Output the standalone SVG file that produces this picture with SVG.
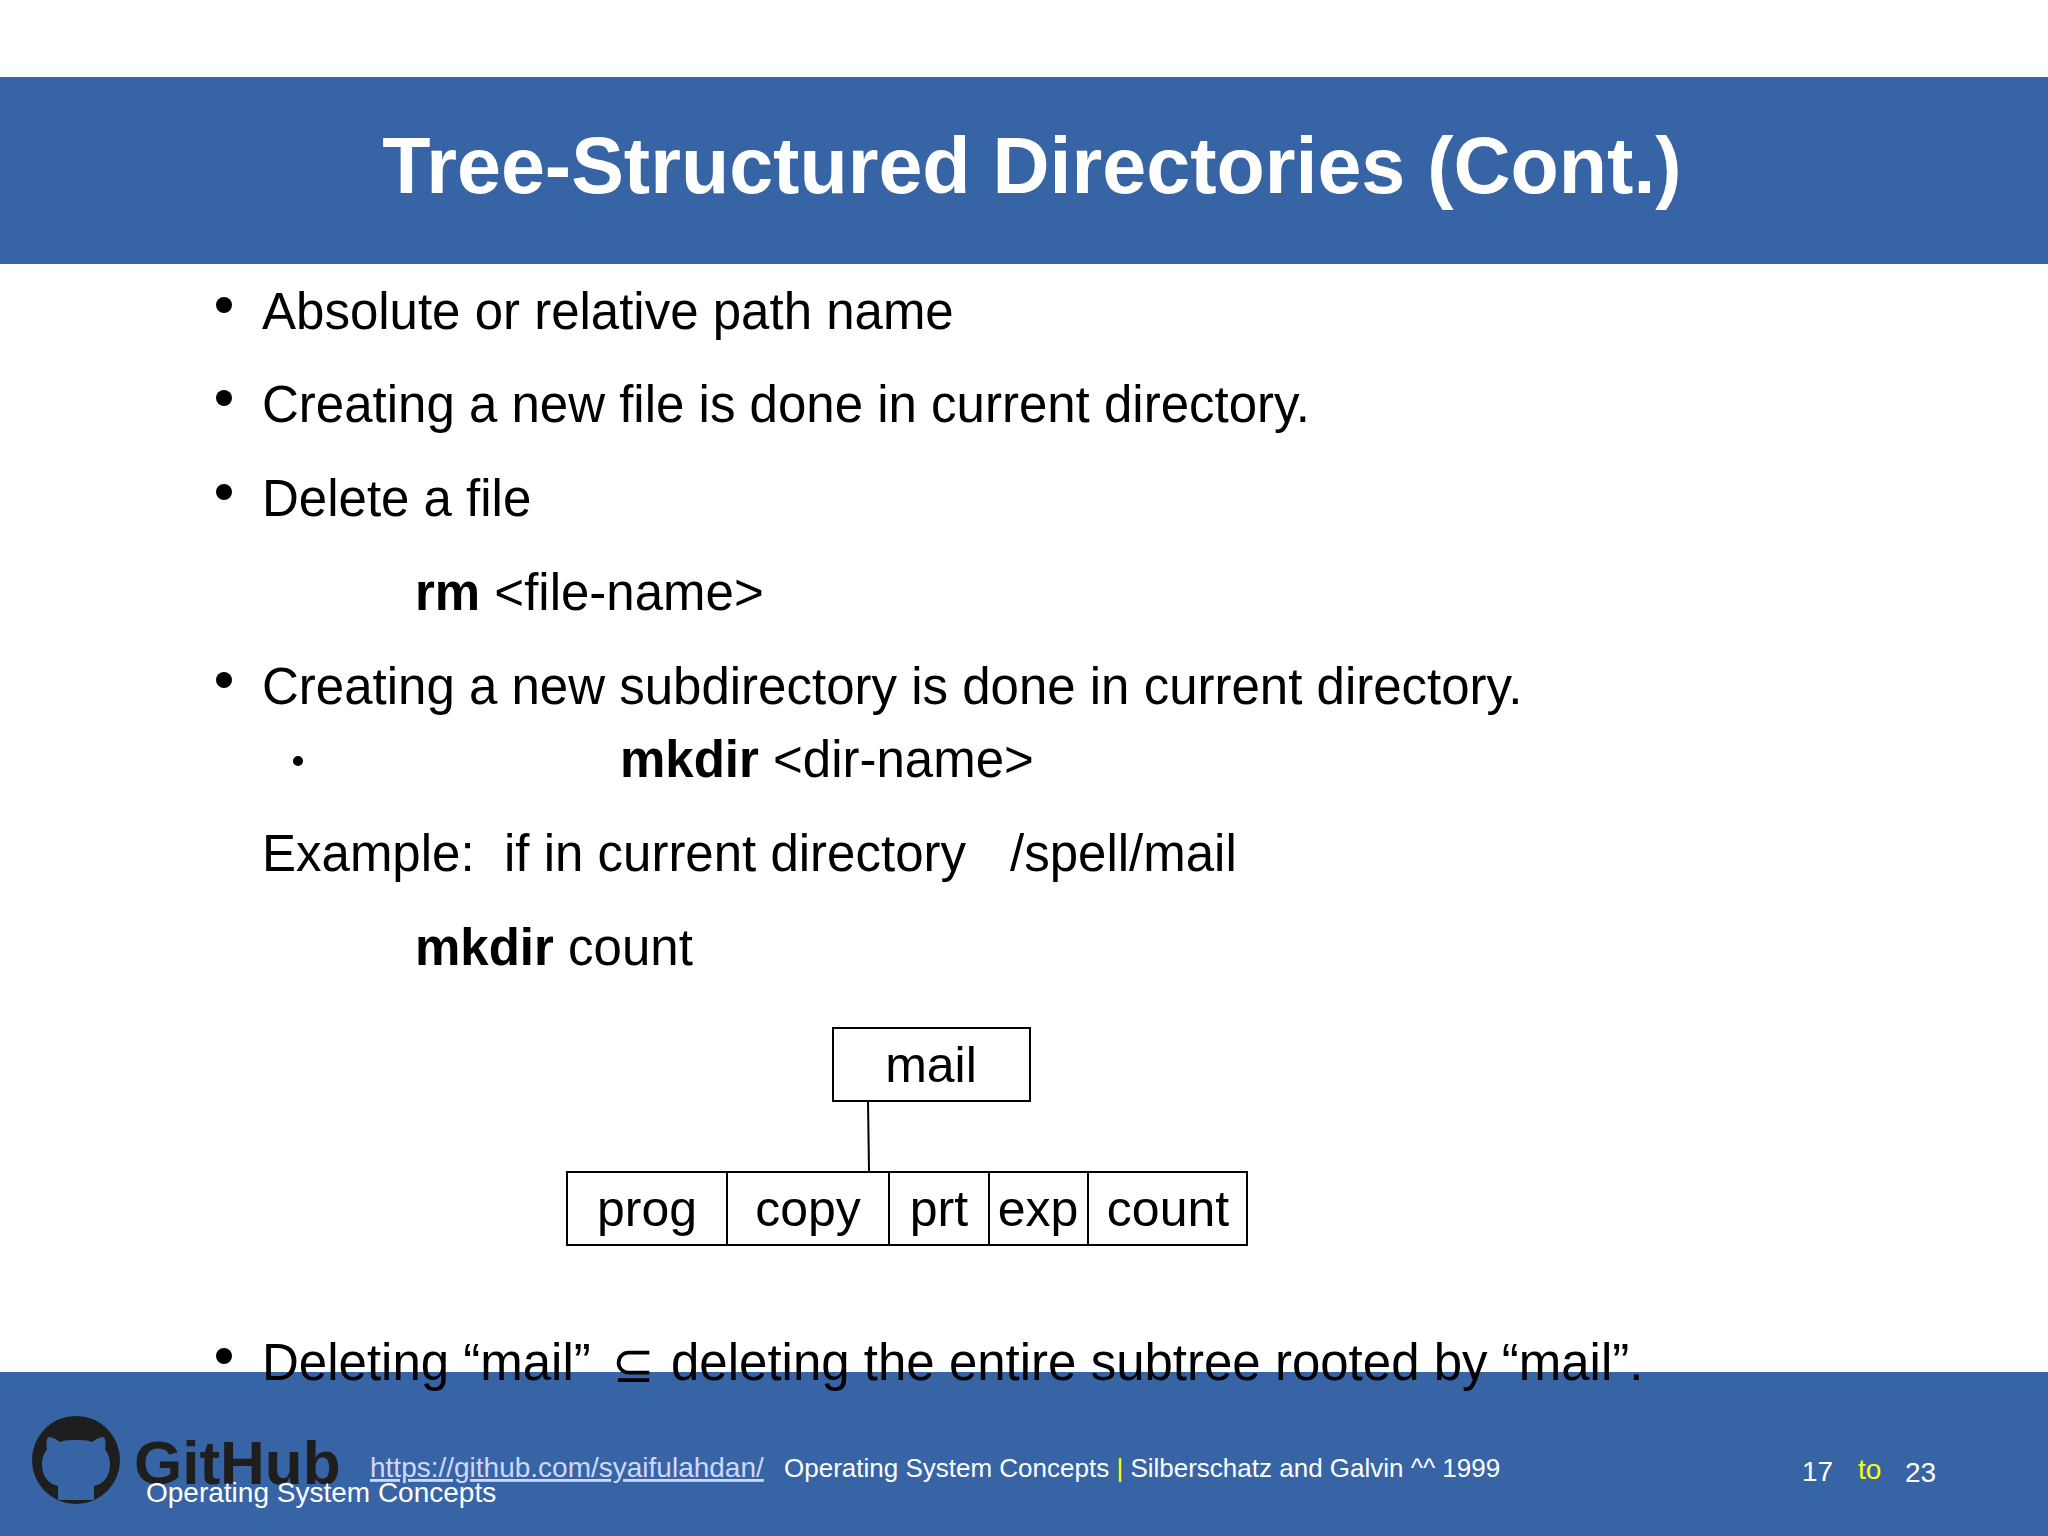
<svg xmlns="http://www.w3.org/2000/svg" width="2048" height="1536" viewBox="0 0 2048 1536">
<style>
.t{font-family:"Liberation Sans",Arial,sans-serif;font-size:51px;fill:#000}
.b{font-weight:bold}
.f{font-family:"Liberation Sans",Arial,sans-serif;font-size:26px;fill:#fff}
.box{fill:#fff;stroke:#000;stroke-width:2}
.n{font-family:"Liberation Sans",Arial,sans-serif;font-size:50px;fill:#000;text-anchor:middle}
</style>
<rect width="2048" height="1536" fill="#fff"/>
<rect x="0" y="77" width="2048" height="187" fill="#3764a5"/>
<text x="1032" y="193" text-anchor="middle" font-family="Liberation Sans,Arial,sans-serif" font-size="79" font-weight="bold" fill="#fff">Tree-Structured Directories (Cont.)</text>
<rect x="0" y="1372" width="2048" height="164" fill="#3764a5"/>
<g fill="#000">
<circle cx="224" cy="305" r="8"/><circle cx="224" cy="398" r="8"/><circle cx="224" cy="492" r="8"/><circle cx="224" cy="680" r="8"/><circle cx="298" cy="761" r="5"/><circle cx="224" cy="1356" r="8"/>
</g>
<text class="t" x="262" y="329">Absolute or relative path name</text>
<text class="t" x="262" y="422">Creating a new file is done in current directory.</text>
<text class="t" x="262" y="516">Delete a file</text>
<text class="t" x="415" y="610"><tspan class="b">rm</tspan> &lt;file-name&gt;</text>
<text class="t" x="262" y="704">Creating a new subdirectory is done in current directory.</text>
<text class="t" x="620" y="777"><tspan class="b">mkdir</tspan> &lt;dir-name&gt;</text>
<text class="t" x="262" y="871">Example:</text>
<text class="t" x="504" y="871">if in current directory</text>
<text class="t" x="1010" y="871">/spell/mail</text>
<text class="t" x="415" y="965"><tspan class="b">mkdir</tspan> count</text>
<g id="connectors"><line x1="868" y1="1101" x2="869" y2="1171" stroke="#000" stroke-width="2"/></g>
<g id="mail"><rect class="box" x="833" y="1028" width="197" height="73"/><text class="n" x="931" y="1082">mail</text></g>
<g id="prog"><rect class="box" x="567" y="1172" width="160" height="73"/><text class="n" x="647" y="1226">prog</text></g>
<g id="copy"><rect class="box" x="727" y="1172" width="162" height="73"/><text class="n" x="808" y="1226">copy</text></g>
<g id="prt"><rect class="box" x="889" y="1172" width="100" height="73"/><text class="n" x="939" y="1226">prt</text></g>
<g id="exp"><rect class="box" x="989" y="1172" width="99" height="73"/><text class="n" x="1038" y="1226">exp</text></g>
<g id="count"><rect class="box" x="1088" y="1172" width="159" height="73"/><text class="n" x="1168" y="1226">count</text></g>
<text class="t" x="262" y="1380">Deleting “mail”</text>
<text class="t" x="612" y="1382" font-size="32">⊆</text>
<text class="t" x="671" y="1380">deleting the entire subtree rooted by “mail”.</text>
<g id="logo">
<circle cx="76" cy="1460" r="44" fill="#1e1e1e"/>
<path d="M58 1500 v-14 c-10-2-16-10-16-22 c0-6 2-11 5-14 c-1-4-1-9 1-13 c5 0 9 3 12 5 c5-2 11-2 16-2 c5 0 11 0 16 2 c3-2 7-5 12-5 c2 4 2 9 1 13 c3 3 5 8 5 14 c0 12-6 20-16 22 v14 z" fill="#3764a5"/>
</g>
<text x="134" y="1484" font-family="Liberation Sans,Arial,sans-serif" font-size="62" font-weight="bold" fill="#1e1e1e">GitHub</text>
<text class="f" x="370" y="1477" font-size="28" text-decoration="underline" style="fill:#d0d8ff;font-size:28px">https://github.com/syaifulahdan/</text>
<text class="f" x="784" y="1477">Operating System Concepts <tspan style="fill:#ffff00">|</tspan> Silberschatz and Galvin ^^ 1999</text>
<text class="f" x="146" y="1502" style="font-size:28px">Operating System Concepts</text>
<text class="f" x="1802" y="1481" style="font-size:28px">17</text>
<text class="f" x="1858" y="1479" style="font-size:28px;fill:#ffff00">to</text>
<text class="f" x="1905" y="1482" style="font-size:28px">23</text>
</svg>
